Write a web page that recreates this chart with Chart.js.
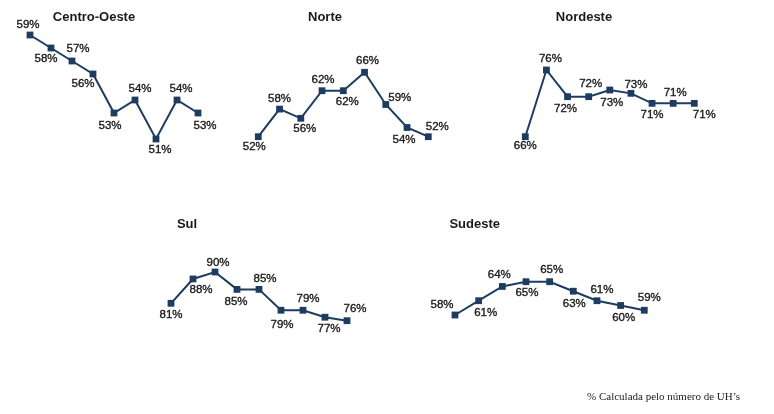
<!DOCTYPE html>
<html><head><meta charset="utf-8">
<script src="https://cdn.jsdelivr.net/npm/chart.js@4.4.0/dist/chart.umd.min.js"></script>
<style>
html,body{margin:0;padding:0;background:#fff;width:774px;height:414px;overflow:hidden}
#wrap{position:relative;width:774px;height:414px}
canvas{position:absolute;left:0;top:0}
#note{position:absolute;left:587px;top:391px;font-family:"Liberation Serif","DejaVu Serif",serif;font-size:11px;line-height:11px;color:#222;white-space:nowrap}
</style></head><body>
<div id="wrap">
<canvas id="c0" width="774" height="414"></canvas>
<canvas id="c1" width="774" height="414"></canvas>
<canvas id="c2" width="774" height="414"></canvas>
<canvas id="c3" width="774" height="414"></canvas>
<canvas id="c4" width="774" height="414"></canvas>
<div id="note">% Calculada pelo número de UH’s</div>
</div>
<script>
// ---- data ----
const categories = ['1','2','3','4','5','6','7','8','9'];
const regions = ['Centro-Oeste','Norte','Nordeste','Sul','Sudeste'];
const centroOeste = [59,58,57,56,53,54,51,54,53];
const norte = [52,58,56,62,62,66,59,54,52];
const nordeste = [66,76,72,72,73,72.5,71,71,71];
const sul = [81,88,90,85,85,79,79,77,76];
const sudeste = [58,61,64,65,65,63,61,60,59];
const series = [centroOeste, norte, nordeste, sul, sudeste];

// ---- layout (plot area per panel, title anchor, label nudges) ----
const panels = [
  {area:{left:30,right:198,top:35,bottom:139}, title:{x:94,y:20.5},
   nudges:[[-2,-10],[-5,11],[6,-12],[-10,10],[-4,13],[5,-11],[4,11],[4,-11],[7,13]]},
  {area:{left:258.3,right:428.3,top:72.3,bottom:136.7}, title:{x:325,y:20.5},
   nudges:[[-4,10],[0,-10],[4,11],[1,-11],[4,11],[3,-11],[14,-7],[-3,12],[9,-10]]},
  {area:{left:525.3,right:694.3,top:70,bottom:136.7}, title:{x:584,y:20.5},
   nudges:[[0,9],[4,-11],[-2,12],[2,-13],[2,13],[5,-9],[0,11],[2,-11],[10,11]]},
  {area:{left:171,right:347,top:272,bottom:320.7}, title:{x:187,y:227.5},
   nudges:[[0,12],[8,11],[3,-9],[-1,12],[6,-11],[1,15],[5,-11],[4,12],[8,-12]]},
  {area:{left:455,right:644.3,top:281.7,bottom:315}, title:{x:474.7,y:227.5},
   nudges:[[-13,-10],[7,12],[-3,-12],[1,11],[2,-12],[1,13],[5,-11],[3,12],[5,-12]]}
];

const NAVY = '#1d3c60';
const W = 774, H = 414;

function labelPlugin(nudges){
  return {
    id:'pointLabels',
    afterDatasetsDraw(chart){
      const ctx = chart.ctx;
      const meta = chart.getDatasetMeta(0);
      const data = chart.data.datasets[0].data;
      ctx.save();
      ctx.font = '11.5px "Liberation Sans", Arial, sans-serif';
      ctx.fillStyle = '#1a1a1a';
      ctx.strokeStyle = '#1a1a1a';
      ctx.lineWidth = 0.35;
      ctx.textAlign = 'center';
      ctx.textBaseline = 'middle';
      meta.data.forEach((pt,i)=>{
        const n = nudges[i] || [0,-11];
        const t = Math.round(data[i]) + '%';
        ctx.fillText(t, pt.x + n[0], pt.y + n[1]);
        ctx.strokeText(t, pt.x + n[0], pt.y + n[1]);
      });
      ctx.restore();
    }
  };
}
function titlePlugin(text, pos){
  return {
    id:'panelTitle',
    afterDraw(chart){
      const ctx = chart.ctx;
      ctx.save();
      ctx.font = 'bold 13px "Liberation Sans", Arial, sans-serif';
      ctx.fillStyle = '#1a1a1a';
      ctx.textAlign = 'center';
      ctx.textBaseline = 'alphabetic';
      ctx.fillText(text, pos.x, pos.y);
      ctx.restore();
    }
  };
}

series.forEach((vals, k)=>{
  const p = panels[k];
  const minV = Math.min(...vals), maxV = Math.max(...vals);
  new Chart(document.getElementById('c'+k), {
    type:'line',
    data:{
      labels: categories,
      datasets:[{
        data: vals,
        borderColor: NAVY,
        borderWidth: 2,
        backgroundColor: NAVY,
        pointStyle: 'rect',
        pointRadius: 4.8,
        pointBorderWidth: 0,
        pointBackgroundColor: NAVY,
        tension: 0,
        clip: false,
        fill: false
      }]
    },
    options:{
      responsive:false,
      animation:false,
      devicePixelRatio:1,
      events:[],
      layout:{
        autoPadding:false,
        padding:{left:p.area.left, right:W-p.area.right, top:p.area.top, bottom:H-p.area.bottom}
      },
      scales:{
        x:{type:'category', display:false, offset:false},
        y:{type:'linear', display:false, min:minV, max:maxV}
      },
      plugins:{legend:{display:false}, title:{display:false}, tooltip:{enabled:false}}
    },
    plugins:[labelPlugin(p.nudges), titlePlugin(regions[k], p.title)]
  });
});
</script>
</body></html>
